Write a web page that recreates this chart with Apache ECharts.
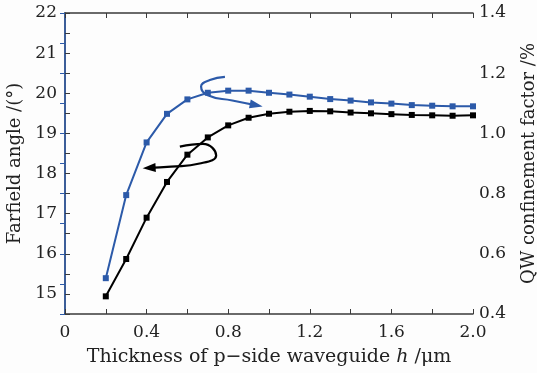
<!DOCTYPE html>
<html>
<head>
<meta charset="utf-8">
<script src="https://cdn.jsdelivr.net/npm/echarts@6/dist/echarts.min.js"></script>
<style>
  html, body { margin: 0; padding: 0; background: #fff; }
  #chart { width: 537px; height: 373px; }
</style>
</head>
<body>
<div id="chart"></div>
<script>
// thickness h (um)
const thickness = [0.2, 0.3, 0.4, 0.5, 0.6, 0.7, 0.8, 0.9, 1.0, 1.1, 1.2, 1.3, 1.4, 1.5, 1.6, 1.7, 1.8, 1.9, 2.0];
// farfield angle (deg), left axis
const farfield = [14.94, 15.87, 16.9, 17.79, 18.47, 18.9, 19.2, 19.39, 19.49, 19.54, 19.56, 19.55, 19.52, 19.5, 19.48, 19.46, 19.45, 19.44, 19.45];
// QW confinement factor (%), right axis
const confinement = [0.519, 0.795, 0.97, 1.065, 1.113, 1.135, 1.142, 1.142, 1.135, 1.129, 1.122, 1.114, 1.109, 1.103, 1.099, 1.094, 1.092, 1.09, 1.09];

// curly arrows (data coords on left axis)
const blueArrow = [[0.784, 20.41], [0.71, 20.33], [0.667, 20.17], [0.7, 19.95], [0.82, 19.82], [0.94, 19.7]];
const blackArrow = [[0.563, 18.67], [0.676, 18.74], [0.741, 18.45], [0.66, 18.25], [0.52, 18.17], [0.41, 18.14]];

const BLUE = '#2c5aa9';
const AXIS = '#3a3a3a';
const FONT = 'DejaVu Serif';
const FS = 17;

const chart = echarts.init(document.getElementById('chart'));

const pair = (xs, ys) => xs.map((x, i) => [x, ys[i]]);

const option = {
  backgroundColor: '#fdfdfd',
  animation: false,
  grid: { left: 65, right: 64, top: 13, bottom: 59, outerBoundsMode: 'none' },
  xAxis: [{
    type: 'value',
    min: 0, max: 2.0, interval: 0.2,
    name: 'Thickness of p\u2212side waveguide {i|h} /\u03bcm',
    nameLocation: 'middle',
    nameGap: 34,
    nameTextStyle: { fontFamily: FONT, fontSize: 19, color: '#222', rich: { i: { fontFamily: FONT, fontStyle: 'italic', fontSize: 19, color: '#222' } } },
    axisLine: { lineStyle: { color: AXIS, width: 1.5 } },
    axisTick: { inside: true, length: 5, lineStyle: { color: AXIS } },
    axisLabel: {
      fontFamily: FONT, fontSize: FS, color: '#222', margin: 10,
      formatter: v => (Math.round(v * 10) % 4 === 0 ? (v === 0 ? '0' : v.toFixed(1)) : '')
    },
    splitLine: { show: false }
  }, {
    type: 'value', position: 'top',
    min: 0, max: 2.0, interval: 0.2,
    axisLine: { lineStyle: { color: AXIS, width: 1.5 } },
    axisTick: { inside: true, length: 5, lineStyle: { color: AXIS } },
    axisLabel: { show: false },
    splitLine: { show: false }
  }],
  yAxis: [{
    type: 'value',
    min: 14.5, max: 22, interval: 0.5,
    name: 'Farfield angle /(\u00b0)',
    nameLocation: 'middle',
    nameGap: 40,
    nameRotate: 90,
    nameTextStyle: { fontFamily: FONT, fontSize: 18, color: '#222' },
    axisLine: { show: true, lineStyle: { color: AXIS, width: 1.5 } },
    axisTick: { inside: true, length: 5, lineStyle: { color: AXIS } },
    axisLabel: {
      fontFamily: FONT, fontSize: FS, color: '#222', margin: 8,
      formatter: v => (Number.isInteger(v) ? String(v) : '')
    },
    splitLine: { show: false }
  }, {
    type: 'value',
    position: 'right',
    min: 0.4, max: 1.4, interval: 0.1,
    name: 'QW confinement factor /%',
    nameLocation: 'middle',
    nameGap: 47,
    nameRotate: 90,
    nameTextStyle: { fontFamily: FONT, fontSize: 18, color: '#222' },
    axisLine: { show: true, lineStyle: { color: BLUE, width: 1.5 } },
    axisTick: { inside: true, length: 5, lineStyle: { color: BLUE } },
    axisLabel: {
      fontFamily: FONT, fontSize: FS, color: '#222', margin: 6,
      formatter: v => (Math.round(v * 10) % 2 === 0 ? v.toFixed(1) : '')
    },
    splitLine: { show: false }
  }],
  series: [{
    type: 'line',
    xAxisIndex: 0, yAxisIndex: 0,
    data: pair(thickness, farfield),
    symbol: 'rect', symbolSize: 6,
    lineStyle: { color: '#000', width: 2 },
    itemStyle: { color: '#000' }
  }, {
    type: 'line',
    xAxisIndex: 0, yAxisIndex: 1,
    data: pair(thickness, confinement),
    symbol: 'rect', symbolSize: 6,
    lineStyle: { color: BLUE, width: 2 },
    itemStyle: { color: BLUE }
  }, {
    type: 'line',
    xAxisIndex: 0, yAxisIndex: 0,
    data: blueArrow,
    smooth: 0.5, symbol: 'none',
    lineStyle: { color: BLUE, width: 2.2 },
    silent: true
  }, {
    type: 'line',
    xAxisIndex: 0, yAxisIndex: 0,
    data: blackArrow,
    smooth: 0.5, symbol: 'none',
    lineStyle: { color: '#000', width: 2.2 },
    silent: true
  }]
};

chart.setOption(option);

// arrow heads at the end of each curly arrow
function arrowHead(points, color) {
  const a = chart.convertToPixel({ xAxisIndex: 0, yAxisIndex: 0 }, points[points.length - 2]);
  const b = chart.convertToPixel({ xAxisIndex: 0, yAxisIndex: 0 }, points[points.length - 1]);
  const ang = Math.atan2(b[1] - a[1], b[0] - a[0]);
  const len = 13, half = 4.5;
  const tip = [b[0] + Math.cos(ang) * 6, b[1] + Math.sin(ang) * 6];
  const base = [tip[0] - Math.cos(ang) * len, tip[1] - Math.sin(ang) * len];
  const nx = -Math.sin(ang), ny = Math.cos(ang);
  return {
    type: 'polygon',
    shape: { points: [tip, [base[0] + nx * half, base[1] + ny * half], [base[0] - nx * half, base[1] - ny * half]] },
    style: { fill: color },
    z: 10
  };
}

chart.setOption({ graphic: [arrowHead(blueArrow, BLUE), arrowHead(blackArrow, '#000')] });
</script>
</body>
</html>
